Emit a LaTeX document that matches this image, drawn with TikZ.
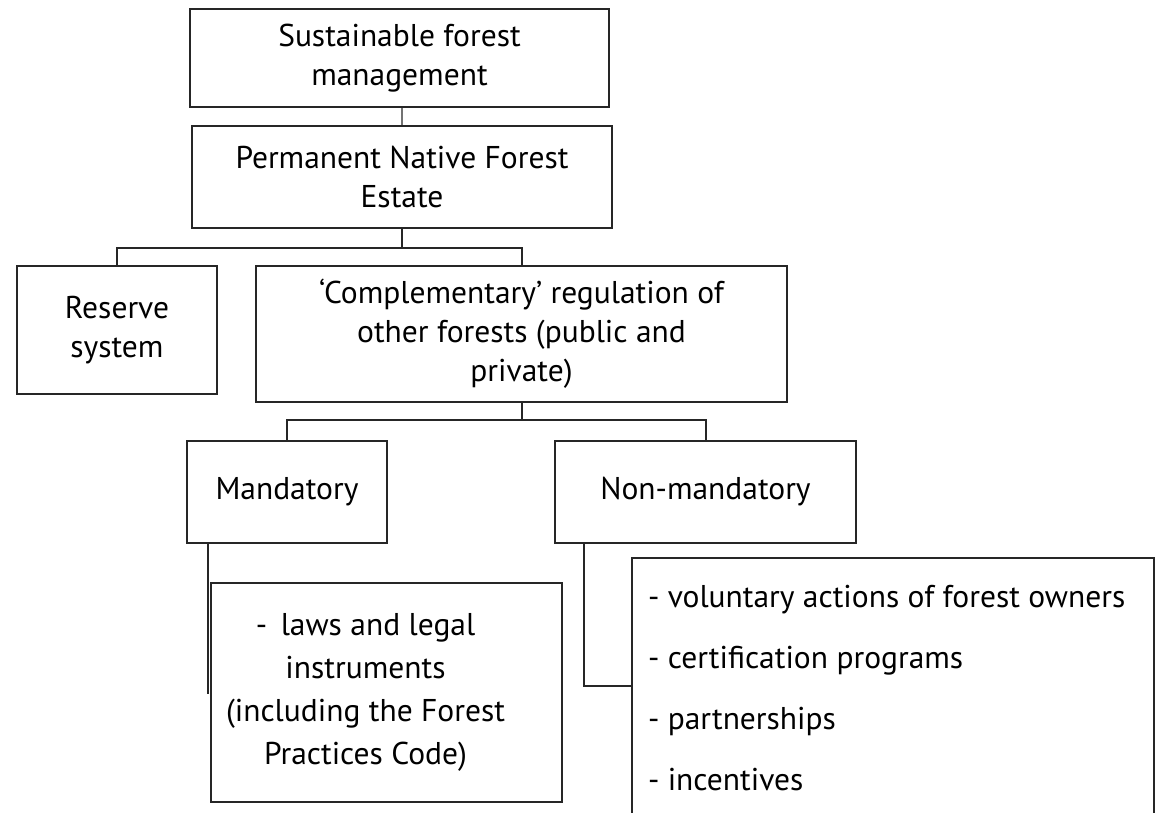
\documentclass[tikz,border=0pt]{standalone}
\usepackage{fontspec}
\setmainfont{PT Sans}

\begin{document}
\begin{tikzpicture}[x=10pt,y=10pt]
\tikzstyle{every node}+=[inner sep=0pt, text=black]
\tikzstyle{box}=[draw=black!85, line width=2pt, align=center, font=\fontsize{31.5}{39}\selectfont]
\tikzstyle{link}=[draw=black!85, line width=2pt]
\useasboundingbox (0,0) rectangle (115.9,-81.3);
% boxes
\node [box, minimum width=419pt, minimum height=98pt] (sfm) at (39.95,-5.8) {Sustainable forest\\management};
\node [box, minimum width=420pt, minimum height=102pt] (pnfe) at (40.2,-17.7) {Permanent Native Forest\\Estate};
\node [box, minimum width=200pt, minimum height=128pt] (reserve) at (11.7,-33.0) {Reserve\\system};
\node [box, minimum width=531pt, minimum height=136pt] (reg) at (52.15,-33.4) {`Complementary' regulation of\\other forests (public and\\private)};
\node [box, minimum width=200pt, minimum height=102pt] (mand) at (28.7,-49.2) {Mandatory};
\node [box, minimum width=301pt, minimum height=102pt] (nonmand) at (70.55,-49.2) {Non-mandatory};
\node [box, minimum width=351pt, minimum height=219pt] (laws) at (38.65,-69.25) {};
\node [box, draw=none, font=\fontsize{31.5}{43}\selectfont] (lawstext) at ([xshift=-21pt]laws.center) {-~\,laws and legal\\instruments\\(including the Forest\\Practices Code)};
\node [box, minimum width=522pt, minimum height=292pt] (vol) at (89.3,-70.4) {};
\node [box, draw=none, align=left, anchor=north west, font=\fontsize{31.5}{61}\selectfont] (voltext) at (64.7,-58.4) {- voluntary actions of forest owners\\- certification programs\\- partnerships\\- incentives};
% connectors
\draw [draw=black!55, line width=1.2pt] (pnfe.north) -- (pnfe.north |- sfm.south);
\coordinate (bus1) at (40.2,-24.8);
\draw [link] (pnfe.south) -- (bus1);
\draw [link] (reserve.north) |- (bus1) -| (reg.north);
\coordinate (bus2) at (52.15,-42.0);
\draw [link] (reg.south) -- (bus2);
\draw [link] (mand.north) |- (bus2) -| (nonmand.north);
\draw [link] ([xshift=22pt]mand.south west) -- ++(0,-15.0);
\draw [link] ([xshift=30pt]nonmand.south west) |- (vol.west |- 0,-68.6);
\end{tikzpicture}
\end{document}
